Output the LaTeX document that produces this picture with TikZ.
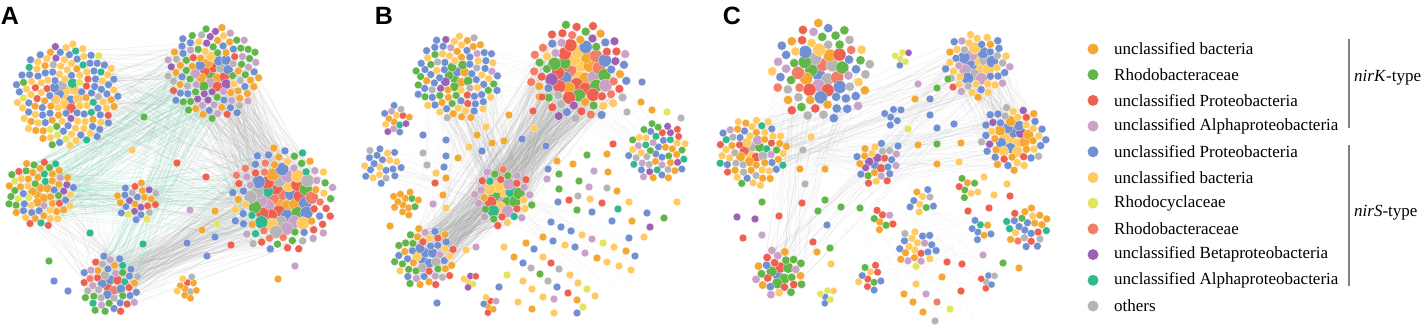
\documentclass[tikz,border=0pt]{standalone}
\usepackage{fontspec}
\setmainfont{Liberation Serif}
\newfontfamily\labfont{Liberation Sans}
\definecolor{cO}{HTML}{F5A733}
\definecolor{cG}{HTML}{62B649}
\definecolor{cR}{HTML}{EE6150}
\definecolor{cP}{HTML}{C9A2C8}
\definecolor{cB}{HTML}{7090D2}
\definecolor{cY}{HTML}{FFCA60}
\definecolor{cL}{HTML}{E3E55C}
\definecolor{cS}{HTML}{F27D68}
\definecolor{cV}{HTML}{9E62B2}
\definecolor{cT}{HTML}{31B88E}
\definecolor{cX}{HTML}{B5B5B5}
\definecolor{eG}{HTML}{A8A8A8}
\definecolor{eT}{HTML}{8BD3B7}
\tikzset{
  nd/.style={draw=white,line width=0.2pt},
  ge/.style={eG,line width=0.25pt,opacity=0.28},
  te/.style={eT,line width=0.25pt,opacity=0.4},
  fe/.style={eG,line width=0.2pt,opacity=0.13},
  lab/.style={font=\labfont\bfseries\fontsize{25}{25}\selectfont,inner sep=0pt},
  legtext/.style={font=\fontsize{17}{19}\selectfont,anchor=west,inner sep=0pt},
  bar/.style={draw=black!50,line width=1.3pt}
}
\newcommand\clust[8]{%
 \foreach \i in {1,...,#4}{%
  \pgfmathsetmacro\rr{#3*sqrt((\i-0.5)/#4)}%
  \pgfmathsetmacro\aa{360*frac(\i*0.3819660)}%
  \pgfmathrandomitem\cc{#5}%
  \pgfmathsetmacro\dr{ifthenelse(\i<#7+0.5,#8,#6)}%
  \pgfmathsetmacro\px{#1+\rr*cos(\aa)}%
  \pgfmathsetmacro\py{#2+\rr*sin(\aa)}%
  \filldraw[nd,fill=\cc] (\px,\py) circle[radius=\dr pt];
 }}
\newcommand\edges[8]{%
 \foreach \k in {1,...,#7}{%
  \pgfmathsetmacro\ra{#3*sqrt(rnd)}\pgfmathsetmacro\ta{360*rnd}%
  \pgfmathsetmacro\rb{#6*sqrt(rnd)}\pgfmathsetmacro\tb{360*rnd}%
  \pgfmathsetmacro\xa{#1+\ra*cos(\ta)}\pgfmathsetmacro\ya{#2+\ra*sin(\ta)}%
  \pgfmathsetmacro\xb{#4+\rb*cos(\tb)}\pgfmathsetmacro\yb{#5+\rb*sin(\tb)}%
  \draw[#8] (\xa,\ya) -- (\xb,\yb);
 }}
\pgfmathdeclarerandomlist{A1}{{cB}{cB}{cB}{cB}{cB}{cB}{cB}{cY}{cY}{cY}{cY}{cY}{cY}{cY}{cO}{cO}{cX}{cV}{cG}{cR}{cL}{cT}}
\pgfmathdeclarerandomlist{A2}{{cO}{cO}{cO}{cO}{cG}{cG}{cG}{cB}{cB}{cB}{cP}{cP}{cR}{cY}{cX}{cV}}
\pgfmathdeclarerandomlist{A3}{{cO}{cO}{cO}{cO}{cO}{cB}{cB}{cR}{cR}{cG}{cG}{cY}{cY}{cP}{cT}{cV}{cL}}
\pgfmathdeclarerandomlist{A4}{{cB}{cB}{cB}{cL}{cL}{cX}{cX}{cO}{cO}{cR}{cG}{cV}{cY}}
\pgfmathdeclarerandomlist{A5}{{cR}{cR}{cR}{cR}{cB}{cB}{cB}{cO}{cO}{cG}{cG}{cY}{cY}{cX}{cP}{cP}{cS}{cT}}
\pgfmathdeclarerandomlist{A6}{{cB}{cB}{cB}{cB}{cG}{cG}{cG}{cR}{cR}{cP}{cO}{cX}{cT}{cS}}
\pgfmathdeclarerandomlist{A7}{{cO}{cO}{cO}{cY}{cX}{cR}}
\pgfmathdeclarerandomlist{B1}{{cB}{cB}{cB}{cB}{cB}{cG}{cG}{cG}{cP}{cP}{cO}{cO}{cY}{cY}{cR}{cX}{cV}}
\pgfmathdeclarerandomlist{B2}{{cR}{cR}{cR}{cS}{cS}{cO}{cO}{cY}{cY}{cG}{cG}{cB}{cB}{cP}{cX}{cV}}
\pgfmathdeclarerandomlist{B3}{{cB}{cB}{cG}{cO}{cY}{cR}{cV}{cX}{cT}{cP}}
\pgfmathdeclarerandomlist{B4}{{cB}{cB}{cB}{cY}{cY}{cY}{cX}}
\pgfmathdeclarerandomlist{B5}{{cO}{cO}{cO}{cO}{cO}{cG}}
\pgfmathdeclarerandomlist{B6}{{cR}{cR}{cR}{cS}{cG}{cG}{cP}{cP}{cY}{cY}{cB}{cT}{cO}}
\pgfmathdeclarerandomlist{B7}{{cB}{cB}{cB}{cO}{cO}{cG}{cG}{cY}{cR}{cP}{cT}{cX}{cV}}
\pgfmathdeclarerandomlist{B8}{{cB}{cB}{cB}{cB}{cG}{cG}{cY}{cX}{cR}{cP}{cO}}
\pgfmathdeclarerandomlist{B9}{{cO}{cR}{cL}{cV}{cY}}
\pgfmathdeclarerandomlist{B10}{{cO}{cP}{cR}{cB}{cX}{cY}}
\pgfmathdeclarerandomlist{C1}{{cO}{cO}{cO}{cB}{cB}{cB}{cR}{cR}{cS}{cG}{cG}{cY}{cY}{cX}{cP}}
\pgfmathdeclarerandomlist{C2}{{cY}{cY}{cY}{cY}{cB}{cB}{cB}{cB}{cX}{cP}{cO}}
\pgfmathdeclarerandomlist{C3}{{cY}{cY}{cY}{cB}{cB}{cB}{cB}{cO}{cO}{cR}{cX}{cV}}
\pgfmathdeclarerandomlist{C4}{{cY}{cY}{cY}{cY}{cO}{cO}{cO}{cB}{cB}{cB}{cX}{cG}{cT}{cR}{cP}}
\pgfmathdeclarerandomlist{C5}{{cO}{cO}{cB}{cB}{cY}{cY}{cG}{cP}{cX}{cV}{cR}}
\pgfmathdeclarerandomlist{C6}{{cL}{cL}{cL}{cV}{cB}}
\pgfmathdeclarerandomlist{C7}{{cB}{cB}{cG}{cR}}
\pgfmathdeclarerandomlist{C8}{{cG}{cG}{cG}{cR}{cO}{cY}}
\pgfmathdeclarerandomlist{C9}{{cB}{cB}{cG}{cO}{cY}{cX}{cV}}
\pgfmathdeclarerandomlist{C10}{{cR}{cR}{cG}{cG}{cO}{cP}}
\pgfmathdeclarerandomlist{C11}{{cB}{cB}{cO}{cO}{cG}{cR}{cS}{cT}{cX}{cY}}
\pgfmathdeclarerandomlist{C12}{{cB}{cY}{cY}{cT}{cX}{cO}}
\pgfmathdeclarerandomlist{C13}{{cB}{cB}{cB}{cO}{cO}{cX}{cR}{cL}{cP}{cY}}
\pgfmathdeclarerandomlist{C14}{{cG}{cG}{cG}{cR}{cR}{cO}{cO}{cP}{cP}{cB}{cY}}
\pgfmathdeclarerandomlist{C15}{{cB}{cB}{cG}{cR}{cY}}
\pgfmathdeclarerandomlist{C16}{{cL}{cL}{cT}{cV}{cB}{cY}}
\pgfmathdeclarerandomlist{C17}{{cG}{cR}{cB}{cX}}
\begin{document}
\begin{tikzpicture}[x=1pt,y=-1pt]
\pgfmathsetseed{4242}
\useasboundingbox (0,0) rectangle (1422,325);
\fill[white] (0,0) rectangle (1422,325);
% ---------- panel A edges
\edges{67}{95}{50}{213}{73}{45}{60}{ge}
\edges{213}{73}{45}{280}{200}{50}{200}{ge}
\edges{110}{285}{28}{280}{200}{50}{160}{ge}
\edges{40}{193}{33}{213}{73}{45}{90}{te}
\edges{40}{193}{33}{280}{200}{50}{60}{te}
\edges{67}{95}{50}{280}{200}{50}{40}{ge}
\edges{67}{95}{50}{110}{285}{28}{25}{fe}
\edges{137}{202}{20}{280}{200}{50}{25}{fe}
\edges{40}{193}{33}{110}{285}{28}{25}{ge}
\edges{213}{73}{45}{110}{285}{28}{50}{te}
\edges{40}{193}{33}{137}{202}{20}{20}{te}
% ---------- panel B edges
\edges{580}{72}{48}{503}{197}{28}{220}{ge}
\edges{457}{77}{42}{503}{197}{28}{90}{ge}
\edges{503}{197}{28}{425}{258}{28}{160}{ge}
\edges{580}{72}{48}{425}{258}{28}{110}{ge}
\edges{457}{77}{42}{580}{72}{48}{20}{fe}
\edges{580}{72}{48}{658}{152}{30}{25}{fe}
\edges{382}{165}{20}{503}{197}{28}{20}{fe}
\edges{457}{77}{42}{425}{258}{28}{30}{fe}
\edges{503}{197}{28}{600}{250}{50}{30}{fe}
% ---------- panel C edges
\edges{977}{65}{32}{1013}{138}{32}{70}{ge}
\edges{752}{152}{34}{977}{65}{32}{35}{ge}
\edges{822}{72}{48}{752}{152}{34}{25}{fe}
\edges{780}{273}{24}{822}{72}{48}{25}{ge}
\edges{780}{273}{24}{977}{65}{32}{18}{ge}
\edges{752}{152}{34}{1013}{138}{32}{25}{fe}
\edges{877}{163}{22}{1013}{138}{32}{25}{ge}
\edges{752}{152}{34}{877}{163}{22}{25}{fe}
\edges{977}{65}{32}{877}{163}{22}{12}{fe}
\edges{900}{230}{60}{950}{270}{60}{40}{fe}
% ---------- panel A clusters
\clust{67}{95}{52}{150}{A1}{3.9}{12}{5.2}
\clust{213}{73}{47}{115}{A2}{3.9}{18}{5.2}
\clust{40}{193}{34}{68}{A3}{3.9}{6}{4.6}
\clust{137}{202}{21}{26}{A4}{3.8}{0}{3.8}
\clust{282}{200}{53}{105}{A5}{4}{40}{6.5}
\clust{110}{285}{30}{50}{A6}{3.9}{8}{4.8}
\clust{187}{287}{12}{11}{A7}{3.7}{0}{3.7}
% ---------- panel B clusters
\clust{457}{77}{43}{100}{B1}{3.9}{10}{4.8}
\clust{580}{72}{50}{85}{B2}{4.4}{30}{6.5}
\clust{396}{120}{15}{15}{B3}{3.7}{0}{3.7}
\clust{382}{165}{20}{22}{B4}{3.8}{0}{3.8}
\clust{405}{203}{14}{13}{B5}{3.8}{0}{3.8}
\clust{503}{197}{30}{42}{B6}{4}{14}{6}
\clust{658}{152}{30}{52}{B7}{3.8}{0}{3.8}
\clust{425}{258}{31}{52}{B8}{3.9}{8}{5}
\clust{470}{280}{8}{6}{B9}{3.6}{0}{3.6}
\clust{490}{305}{9}{7}{B10}{3.6}{0}{3.6}
% ---------- panel C clusters
\clust{822}{72}{50}{72}{C1}{4.6}{20}{6.5}
\clust{977}{65}{33}{55}{C2}{4}{15}{6}
\clust{1013}{138}{33}{55}{C3}{4}{15}{5.5}
\clust{752}{152}{35}{68}{C4}{3.9}{10}{5}
\clust{877}{163}{22}{27}{C5}{3.9}{4}{4.6}
\clust{902}{57}{9}{6}{C6}{3.6}{0}{3.6}
\clust{893}{115}{11}{6}{C7}{3.8}{0}{3.8}
\clust{967}{188}{12}{8}{C8}{3.8}{0}{3.8}
\clust{922}{202}{14}{10}{C9}{3.8}{0}{3.8}
\clust{882}{220}{12}{8}{C10}{3.9}{0}{3.9}
\clust{1027}{228}{22}{26}{C11}{3.9}{0}{3.9}
\clust{980}{230}{12}{8}{C12}{3.8}{0}{3.8}
\clust{917}{248}{20}{22}{C13}{3.9}{0}{3.9}
\clust{780}{273}{25}{30}{C14}{4.2}{6}{5.5}
\clust{870}{277}{14}{11}{C15}{3.8}{0}{3.8}
\clust{827}{295}{9}{6}{C16}{3.6}{0}{3.6}
\clust{988}{280}{9}{6}{C17}{3.6}{0}{3.6}
% ---------- singletons
\foreach \x/\y/\c in {144/117/cG,132/150/cY,177/163/cR,206/177/cR,190/210/cP,215/211/cO,217/224/cL,202/230/cO,90/233/cT,143/244/cT,187/243/cB,215/237/cB,231/245/cR,207/256/cB,49/261/cG,54/281/cB,68/291/cB,295/266/cP,278/279/cO,
509/115/cO,534/128/cY,533/111/cR,542/97/cR,642/82/cB,641/102/cO,652/110/cO,667/112/cL,627/112/cX,681/118/cX,423/135/cB,446/140/cB,446/156/cB,423/153/cX,427/165/cX,458/158/cO,469/147/cY,486/127/cY,477/135/cO,492/143/cO,504/141/cO,522/139/cB,482/151/cB,546/146/cB,613/144/cR,607/154/cO,587/155/cG,557/161/cO,573/164/cO,436/173/cY,444/167/cB,435/183/cR,446/178/cO,443/195/cO,433/204/cP,446/208/cY,390/226/cO,548/169/cB,547/179/cP,559/174/cG,594/171/cP,608/172/cO,579/181/cG,559/189/cG,589/187/cP,607/188/cX,617/191/cO,578/196/cX,558/202/cB,569/200/cR,590/199/cY,602/203/cR,629/202/cY,677/202/cY,577/210/cG,592/212/cB,618/209/cT,647/213/cB,612/221/cB,632/221/cO,664/218/cG,650/227/cV,551/222/cB,561/227/cB,571/231/cB,582/235/cY,592/239/cP,629/238/cB,644/237/cY,543/237/cO,553/241/cB,565/245/cY,575/247/cB,603/243/cL,614/247/cY,626/251/cO,635/256/cB,526/243/cO,534/249/cB,543/257/cY,585/253/cP,597/258/cO,607/262/cY,619/266/cY,631/270/cY,514/257/cO,523/263/cB,531/268/cX,551/263/cR,559/269/cX,570/275/cY,578/283/cY,587/289/cL,595/296/cY,504/247/cY,476/247/cP,466/250/cY,507/275/cL,540/274/cG,548/281/cX,523/281/cY,557/287/cB,532/289/cY,499/287/cB,543/297/cY,554/299/cP,568/293/cR,577/300/cO,518/302/cY,583/307/cL,532/309/cO,554/313/cY,577/313/cB,437/303/cB,
918/84/cP,915/99/cO,937/88/cG,930/99/cB,948/79/cG,953/87/cR,930/115/cB,937/128/cB,954/124/cB,908/129/cL,811/137/cY,898/146/cB,918/145/cO,937/144/cG,961/143/cO,803/150/cX,937/164/cO,959/162/cY,800/169/cO,825/169/cO,805/184/cX,984/177/cY,1007/184/cY,994/195/cY,1010/196/cR,762/202/cG,802/203/cR,825/200/cG,818/211/cG,841/207/cG,860/208/cG,968/211/cR,989/208/cR,737/217/cV,755/219/cV,779/216/cR,827/225/cB,762/235/cP,743/238/cR,813/242/cR,830/248/cG,817/252/cO,831/264/cY,983/255/cP,1003/263/cG,1019/268/cO,947/262/cR,962/264/cR,942/277/cO,961/291/cR,916/284/cY,904/294/cO,926/294/cP,913/302/cO,937/302/cS,923/312/cO,950/309/cL,935/321/cX}
  \filldraw[nd,fill=\c] (\x,\y) circle[radius=3.9pt];
% ---------- panel labels
\node[lab] (la) at (10,16) {A};
\node[lab] (lb) at (384,16) {B};
\node[lab] (lc) at (732,16) {C};
% ---------- legend
\foreach \n/\c/\t [count=\j from 0] in {
 l1/cO/unclassified bacteria,
 l2/cG/Rhodobacteraceae,
 l3/cR/unclassified Proteobacteria,
 l4/cP/unclassified Alphaproteobacteria,
 l5/cB/unclassified Proteobacteria,
 l6/cY/unclassified bacteria,
 l7/cL/Rhodocyclaceae,
 l8/cS/Rhodobacteraceae,
 l9/cV/unclassified Betaproteobacteria,
 l10/cT/unclassified Alphaproteobacteria,
 l11/cX/others}{
  \fill[\c] (1093,49+25.7*\j) circle[radius=5.5pt];
  \node[legtext] (\n) at (1114,49+25.7*\j) {\t};
}
\coordinate (k1) at (1349,39);
\coordinate (k2) at (1349,128);
\coordinate (s1) at (1349,145);
\coordinate (s2) at (1349,286);
\draw[bar] (k1) -- (k2);
\draw[bar] (s1) -- (s2);
\node[legtext] (nk) at (1354,78) {\textit{nirK}-type};
\node[legtext] (ns) at (1354,213) {\textit{nirS}-type};
\end{tikzpicture}
\end{document}
